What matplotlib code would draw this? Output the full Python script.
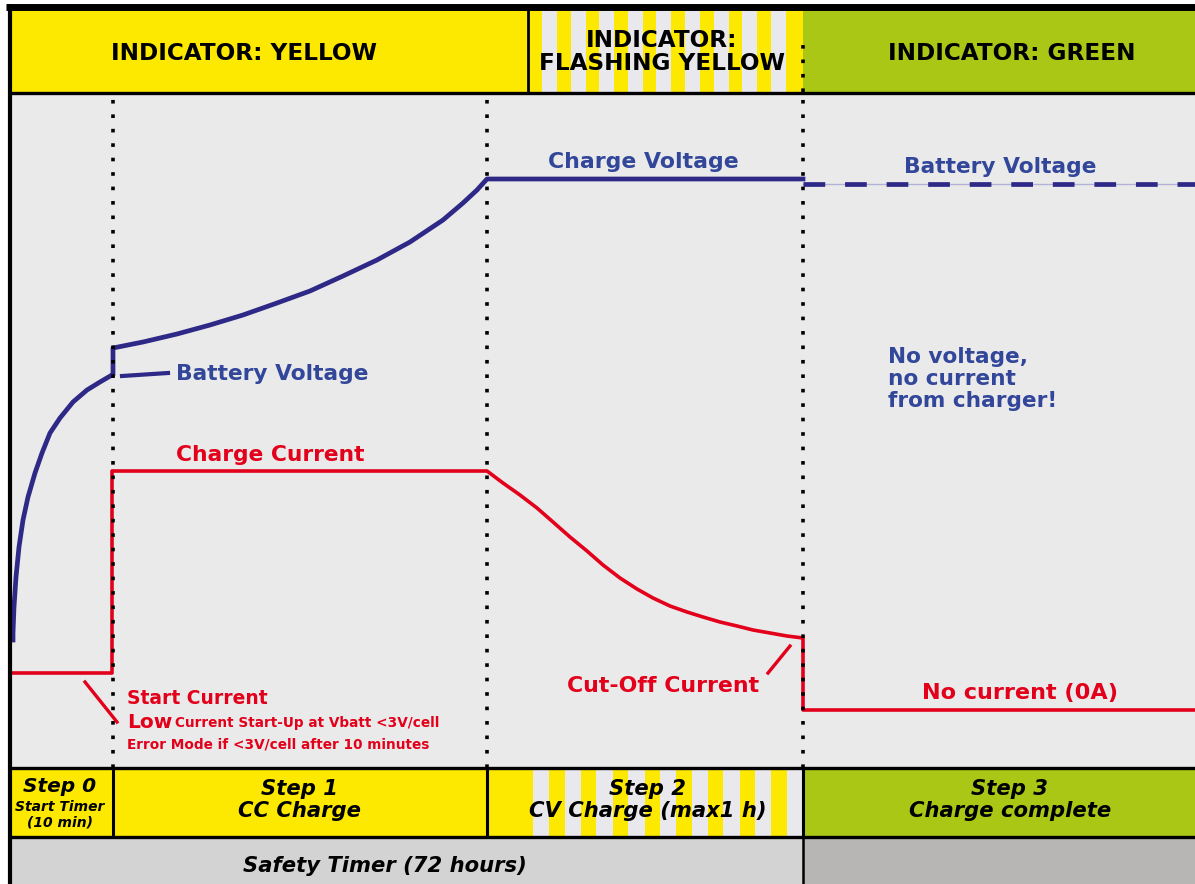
import numpy as np
import matplotlib.pyplot as plt
from matplotlib.patches import Rectangle

W, H = 1195, 884

YELLOW = '#FDE800'
GREEN = '#A9C714'
STRIPE = '#E9E9ED'
BG = '#EAEAEA'
NAVY = '#2E2886'
BLUE_TXT = '#32469A'
RED = '#E2001A'

# phase boundaries on the time axis
phase_edges = [113, 487, 803]

# battery / charge voltage (time, level)
volt_t = [13, 13, 14, 16, 19, 23, 28, 35, 42, 50, 60, 73, 87, 100, 112,
          113, 113, 143, 177, 210, 243, 277, 310, 343, 377, 410, 443, 463, 477, 487, 803]
volt_v = [244, 251, 277, 307, 337, 364, 387, 411, 431, 451, 466, 482, 494, 502, 509,
          509, 536, 542, 550, 559, 569, 581, 593, 608, 624, 642, 664, 681, 694, 705, 705]
# battery voltage after charger switched off
volt_off_t = [803, 1195]
volt_off_v = [700, 700]

# charge current (time, level)
curr_t = [13, 112, 112, 487, 503, 520, 537, 553, 570, 587, 603, 620, 637, 653, 670,
          687, 703, 720, 737, 753, 770, 787, 803, 803, 1195]
curr_i = [211, 211, 413, 413, 401, 389, 376, 362, 347, 333, 319, 306, 295, 286, 278,
          272, 267, 262, 258, 254, 251, 248, 246, 174, 174]

header_labels = ['INDICATOR: YELLOW', 'INDICATOR:\nFLASHING YELLOW', 'INDICATOR: GREEN']
step_titles = ['Step 1', 'Step 2', 'Step 3']
step_texts = ['CC Charge', 'CV Charge (max1 h)', 'Charge complete']


def box(ax, x0, x1, y0, y1, color, z=1):
    ax.add_patch(Rectangle((x0, y0), x1 - x0, y1 - y0, facecolor=color,
                           edgecolor='none', zorder=z))


fig = plt.figure(figsize=(W / 100, H / 100), dpi=100)
fig.patch.set_facecolor('white')
ax = fig.add_axes([0, 0, 1, 1])
ax.set_xlim(0, W)
ax.set_ylim(0, H)
ax.axis('off')

# background bands
box(ax, 10, W, 117, 790, BG)
box(ax, 10, 528, 790, 874, YELLOW)
box(ax, 528, 803, 790, 874, YELLOW)
for s in np.arange(542, 790, 28.6):
    box(ax, s, s + 15, 790, 874, STRIPE, 1.5)
box(ax, 803, W, 790, 874, GREEN)

box(ax, 10, 487, 47, 116, YELLOW)
box(ax, 487, 803, 47, 116, YELLOW)
for s in np.arange(533, 790, 31.7):
    box(ax, s, s + 16.5, 47, 116, STRIPE, 1.5)
box(ax, 803, W, 47, 116, GREEN)

box(ax, 10, 803, 0, 47, '#D4D3D3')
box(ax, 803, W, 0, 47, '#B7B6B4')

# frame lines
k = dict(color='black', zorder=6, solid_capstyle='butt')
ax.plot([6, W], [877, 877], lw=5, **k)
ax.plot([10, 10], [0, 880], lw=3, **k)
ax.plot([10, W], [791, 791], lw=2.4, **k)
ax.plot([528, 528], [791, 874], lw=2, **k)
ax.plot([10, W], [116, 116], lw=2.4, **k)
ax.plot([10, W], [47, 47], lw=2.4, **k)
for x in phase_edges:
    ax.plot([x, x], [47, 116], lw=2.2, **k)
ax.plot([803, 803], [0, 47], lw=1.8, **k)

# dotted phase markers
for x in phase_edges:
    ax.plot([x, x], [116, 786], color='black', lw=2.6, ls=(0, (1, 3)),
            dash_capstyle='butt', zorder=5)
ax.plot([803, 803], [792, 843], color='black', lw=2.6, ls=(0, (1, 3)),
        dash_capstyle='butt', zorder=5)

# curves
ax.plot(volt_t, volt_v, color=NAVY, lw=3.4, zorder=4, solid_joinstyle='round')
ax.plot(volt_off_t, volt_off_v, color='#B4B2D6', lw=1, zorder=3)
ax.plot(volt_off_t, volt_off_v, color=NAVY, lw=3.4, ls=(0, (4.6, 4.2)), zorder=4)
ax.plot(curr_t, curr_i, color=RED, lw=2.6, zorder=4, solid_joinstyle='round')

# leader lines
ax.plot([122, 168], [508, 511], color=NAVY, lw=3, zorder=4)
ax.plot([85, 117], [202, 162], color=RED, lw=2.4, zorder=4)
ax.plot([768, 790], [211, 238], color=RED, lw=2.4, zorder=4)

# header texts
hdr = dict(fontsize=16.7, fontweight='bold', color='black', ha='center', va='center', zorder=7)
ax.text(244, 831, header_labels[0], **hdr)
ax.text(662, 832, header_labels[1], linespacing=1.0, **hdr)
ax.text(1012, 831, header_labels[2], **hdr)

# curve labels
bt = dict(fontweight='bold', color=BLUE_TXT, zorder=7)
ax.text(643, 722, 'Charge Voltage', fontsize=15.8, ha='center', va='center', **bt)
ax.text(1000, 717, 'Battery Voltage', fontsize=15.7, ha='center', va='center', **bt)
ax.text(176, 510, 'Battery Voltage', fontsize=15.7, ha='left', va='center', **bt)
for i, line in enumerate(['No voltage,', 'no current', 'from charger!']):
    ax.text(888, 527 - 22 * i, line, fontsize=15.6, ha='left', va='center', **bt)

rt = dict(fontweight='bold', color=RED, zorder=7)
ax.text(176, 429, 'Charge Current', fontsize=15.7, ha='left', va='center', **rt)
ax.text(127, 185, 'Start Current', fontsize=13.5, ha='left', va='center', **rt)
ax.text(127, 162, 'Low', fontsize=14.5, ha='left', va='center', **rt)
ax.text(175, 161, 'Current Start-Up at Vbatt <3V/cell', fontsize=9.8, ha='left', va='center', **rt)
ax.text(127, 139, 'Error Mode if <3V/cell after 10 minutes', fontsize=9.8, ha='left', va='center', **rt)
ax.text(663, 198, 'Cut-Off Current', fontsize=15.8, ha='center', va='center', **rt)
ax.text(1020, 191, 'No current (0A)', fontsize=16.1, ha='center', va='center', **rt)

# step texts
st = dict(fontweight='bold', fontstyle='italic', color='black', ha='center', va='center', zorder=7)
ax.text(60, 97, 'Step 0', fontsize=14.5, **st)
ax.text(60, 77, 'Start Timer', fontsize=10, **st)
ax.text(60, 62, '(10 min)', fontsize=10, **st)
for cx, title, sub in zip([300, 648, 1010], step_titles, step_texts):
    ax.text(cx, 95, title, fontsize=15.2, **st)
    ax.text(cx, 73, sub, fontsize=15.2, **st)
ax.text(385, 18, 'Safety Timer (72 hours)', fontsize=15.2, **st)

fig.savefig('out.png', dpi=100)
